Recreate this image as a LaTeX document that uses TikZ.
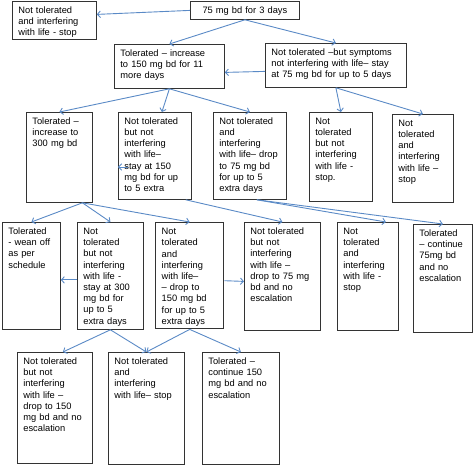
\documentclass[tikz,border=0pt]{standalone}
\usepackage{fontspec}
\setmainfont{Liberation Sans}
\usepackage{xcolor}
\usetikzlibrary{arrows.meta}
\definecolor{arrblue}{HTML}{5A8AC6}
\definecolor{edge}{HTML}{333333}
\tikzset{
  box/.style={draw=edge,line width=0.8pt,anchor=north west,align=left,inner xsep=6pt,inner ysep=4pt,text height=8pt,font=\fontsize{9.3}{11.2}\selectfont},
  arr/.style={-{Straight Barb[length=3pt,width=6.5pt]},line width=0.9pt,arrblue},
}

\begin{document}
\begin{tikzpicture}[x=1pt,y=-1pt]
\useasboundingbox (0,0) rectangle (473,465);
% first step and the stop on the left
\node[box,text width=97pt,text depth=2pt,align=center] (start) at (190,1) {75 mg bd for 3 days};
\node[box,text width=72pt,text depth=22pt] (stopA) at (12,1) {Not tolerated\\and interfering\\with life - stop};
% second row
\node[box,text width=98pt,text depth=28pt] (tol150) at (114,44) {Tolerated – increase\\to 150 mg bd for 11\\more days};
\node[box,text width=129pt,text depth=28pt] (nt75) at (265,43) {Not tolerated –but symptoms\\not interfering with life– stay\\at 75 mg bd for up to 5 days};
% third row
\node[box,text width=54pt,text depth=74pt] (tol300) at (26,112) {Tolerated –\\increase to\\300 mg bd};
\node[box,text width=61pt,text depth=71pt] (stay150) at (118,112) {Not tolerated\\but not\\interfering\\with life–\\stay at 150\\mg bd for up\\to 5 extra};
\node[box,text width=61pt,text depth=71pt] (drop75) at (213,112) {Not tolerated\\and\\interfering\\with life– drop\\to 75 mg bd\\for up to 5\\extra days};
\node[box,text width=51pt,text depth=73pt] (stopB) at (309,112) {Not\\tolerated\\but not\\interfering\\with life -\\stop.};
\node[box,text width=49pt,text depth=72pt] (stopC) at (392,114) {Not\\tolerated\\and\\interfering\\with life –\\stop};
% fourth row
\node[box,text width=46pt,text depth=91pt] (wean) at (2,222) {Tolerated\\- wean off\\as per\\schedule};
\node[box,text width=54pt,text depth=91pt] (stay300) at (77,222) {Not\\tolerated\\but not\\interfering\\with life -\\stay at 300\\mg bd for\\up to 5\\extra days};
\node[box,line width=1.4pt,text width=56pt,text depth=90pt] (drop150) at (155,222) {Not\\tolerated\\and\\interfering\\with life–\\– drop to\\150 mg bd\\for up to 5\\extra days};
\node[box,text width=64pt,text depth=92pt] (drop75ne) at (244,222) {Not tolerated\\but not\\interfering\\with life –\\drop to 75 mg\\bd and no\\escalation};
\node[box,text width=49pt,text depth=92pt] (stopD) at (337,222) {Not\\tolerated\\and\\interfering\\with life -\\stop};
\node[box,text width=47pt,text depth=92pt] (cont75) at (413,224) {Tolerated\\– continue\\75mg bd\\and no\\escalation};
% last row
\node[box,text width=63pt,text depth=95pt] (drop150ne) at (17,352) {Not tolerated\\but not\\interfering\\with life –\\drop to 150\\mg bd and no\\escalation};
\node[box,text width=64pt,text depth=96pt] (stopE) at (108,352) {Not tolerated\\and\\interfering\\with life– stop};
\node[box,text width=65pt,text depth=96pt] (cont150) at (202,352) {Tolerated –\\continue 150\\mg bd and no\\escalation};
% connectors
\coordinate (s300) at ([xshift=23pt]tol300.south);
\coordinate (s150) at ([xshift=-6pt]stay150.south east);
\coordinate (s75) at ([xshift=7pt]drop75.south);
\coordinate (stA) at (128,167);
\coordinate (stB) at (118,167);
\foreach \a/\b in {start/tol150,start/nt75,tol150/tol300,tol150/drop75,nt75/stopB,nt75/stopC,stay300/stopE,drop150/stopE,drop150/cont150}
  \draw[arr] (\a.south) -- (\b.north);
\foreach \b in {wean,stay300,drop150} \draw[arr] (s300) -- (\b.north);
\draw[arr] (start.west) -- ([yshift=6pt]stopA.east);
\draw[arr] ([yshift=-6pt]nt75.west) -- ([yshift=-6pt]tol150.east);
\draw[arr] (tol150.south) -- ([xshift=7pt]stay150.north);
\draw[arr] (s150) -- (drop75ne.north);
\draw[arr] (s75) -- ([xshift=18pt]stopD.north);
\draw[arr] (s75) -- (cont75.north);
\draw[arr] (stA) -- (stB);
\draw[arr] ([yshift=-4pt]stay300.west) -- ([yshift=-4pt]wean.east);
\draw[arr] ([yshift=-5pt]drop150.east) -- ([yshift=-5pt]drop75ne.west);
\draw[arr] (stay300.south) -- ([xshift=8pt]drop150ne.north);
\end{tikzpicture}
\end{document}
